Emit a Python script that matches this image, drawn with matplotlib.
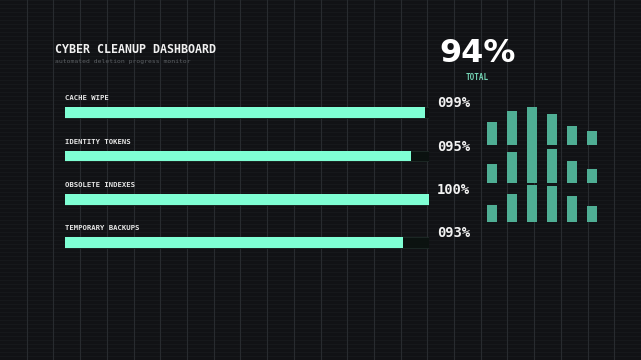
import matplotlib
matplotlib.use("Agg")
import matplotlib.pyplot as plt
import numpy as np

# ---- data ----
title = "CYBER CLEANUP DASHBOARD"
subtitle = "automated deletion progress monitor"
total_label = "TOTAL"
total_value = 94
categories = ["CACHE WIPE", "IDENTITY TOKENS", "OBSOLETE INDEXES", "TEMPORARY BACKUPS"]
progress = [99, 95, 100, 93]
eq_bottom = [0.44, 0.72, 0.97, 0.94, 0.67, 0.41]
eq_middle = [0.50, 0.82, 1.00, 0.89, 0.58, 0.37]
eq_top = [0.59, 0.90, 1.00, 0.81, 0.50, 0.36]

# ---- style ----
W, H = 641, 360
BG = "#111215"
GRID = "#282b2f"
SCAN = "#17191c"
MINT = "#7fffd4"
TRACK = "#0b1210"
TRACK_EDGE = "#1e2a27"
EQ = "#4fae94"
MONO = "DejaVu Sans Mono"

def fx(x):
    return x / W

def fy(y):
    return 1 - y / H

fig = plt.figure(figsize=(W / 100, H / 100), dpi=100, facecolor=BG)

# background grid
bg = fig.add_axes([0, 0, 1, 1])
bg.set_xlim(0, W)
bg.set_ylim(H, 0)
bg.set_facecolor(BG)
bg.axis("off")
for y in np.arange(0, H, 4):
    bg.axhline(y, color=SCAN, lw=0.7, zorder=0)
for x in np.arange(1, 24) * W / 24:
    bg.axvline(x, color=GRID, lw=0.8, zorder=1)

# titles
bg.text(55.3, 52.7, title, fontsize=8.4, fontweight="bold", family=MONO,
        color="#f0f0f0", va="baseline", ha="left")
bg.text(55.3, 63.5, subtitle, fontsize=4.55, family=MONO,
        color="#5c6064", va="baseline", ha="left")
bg.text(477.5, 62, f"{total_value}%", fontsize=23, fontweight="bold",
        family="DejaVu Sans", color="#ffffff", va="baseline", ha="center")
bg.text(477.5, 80, total_label, fontsize=5.5, fontweight="bold", family=MONO,
        color="#74d4b4", va="baseline", ha="center")

# progress bars
left, right = 65.3, 428.7
step = 43.33
top = 112.7 - step / 2
bottom = 112.7 + 3 * step + step / 2
ax = fig.add_axes([fx(left), fy(bottom), (right - left) / W, (bottom - top) / H])
ax.set_xlim(0, 100)
ax.set_ylim(len(categories) - 0.5, -0.5)
ax.axis("off")
bh = 10.7 / step
ypos = np.arange(len(categories))
ax.barh(ypos, [100] * len(categories), height=bh, left=0, color=TRACK,
        edgecolor=TRACK_EDGE, linewidth=0.6, zorder=1)
ax.barh(ypos, progress, height=bh, left=0, color=MINT, zorder=2)
xt = (436.7 - left) / (right - left) * 100
for i, (c, v) in enumerate(zip(categories, progress)):
    ax.text(0, i - bh / 2 - 7 / step, c, fontsize=5.25, fontweight="bold",
            family=MONO, color="#e6e6e6", va="baseline", ha="left", clip_on=False)
    ax.text(xt, i - bh / 2, f"{v:03d}%", fontsize=9.9, fontweight="bold",
            family=MONO, color="#f2f2f2", va="baseline", ha="left", clip_on=False)

# equalizer decoration
eq_top_px, eq_bot_px = 106.7, 221.7
eq = fig.add_axes([fx(482), fy(eq_bot_px), 120 / W, (eq_bot_px - eq_top_px) / H])
eq.set_xlim(-0.5, 5.5)
eq.set_ylim(0, 3)
eq.axis("off")
cols = np.arange(len(eq_bottom))
bw = 9.3 / 20
for row, vals in enumerate([eq_bottom, eq_middle, eq_top]):
    eq.bar(cols, vals, width=bw, bottom=row, color=EQ, linewidth=0)

fig.savefig("out.png", dpi=100, facecolor=BG)
